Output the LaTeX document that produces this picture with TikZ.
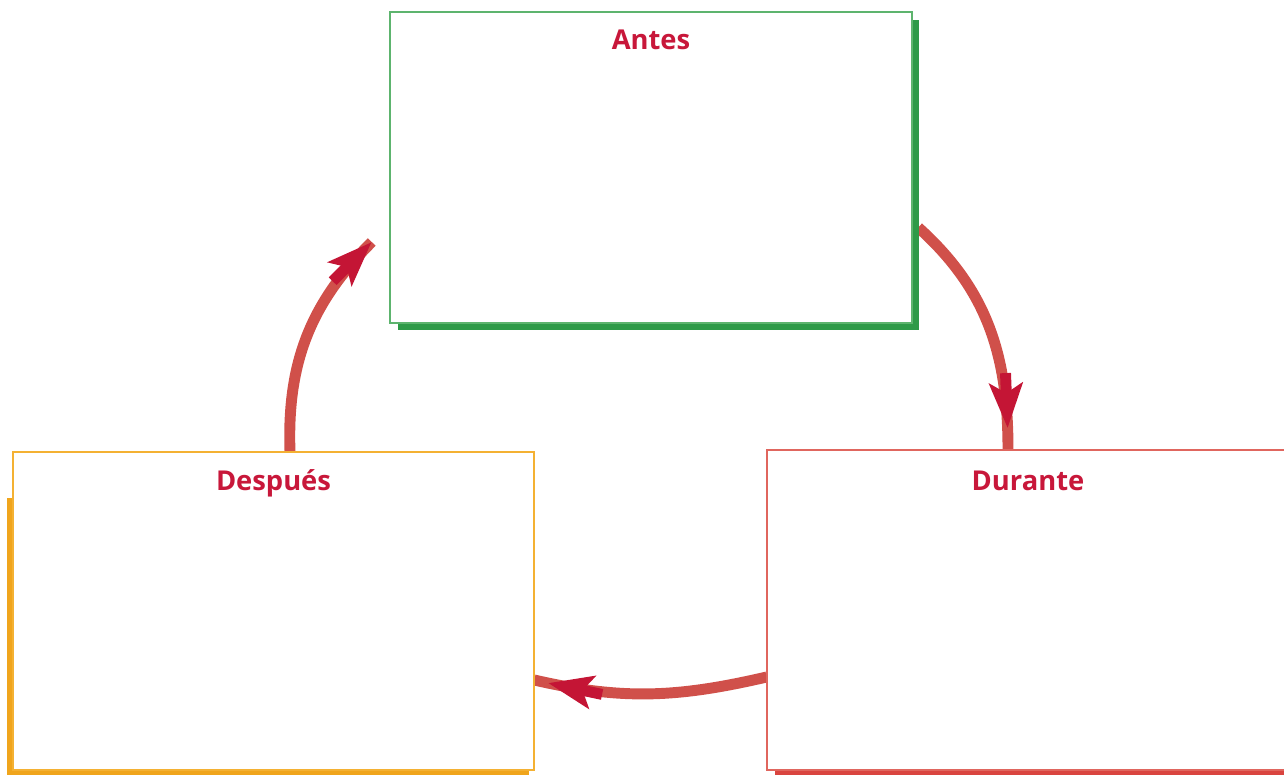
\documentclass[tikz,border=0pt]{standalone}
\usepackage{fontspec}
\setmainfont{Open Sans}
\usepackage{xcolor}
\usepackage{tikz}
\usetikzlibrary{calc, decorations.markings}

\definecolor{titlered}{HTML}{C8173A}
\definecolor{arcred}{HTML}{D0504A}
\definecolor{tipred}{HTML}{C41535}
\definecolor{antesline}{HTML}{5DB46E}
\definecolor{antesshade}{HTML}{2E9A48}
\definecolor{duranteline}{HTML}{E0665E}
\definecolor{duranteshade}{HTML}{D9443F}
\definecolor{despuesline}{HTML}{F4B133}
\definecolor{despuesshade}{HTML}{F0A51C}

\newcommand{\arrowtip}{%
	\fill[tipred] (0,0) -- (-34pt,13pt) -- (-26pt,0) -- (-34pt,-13pt) -- cycle;
	\fill[tipred] (-41pt,-4.1pt) rectangle (-22pt,4.1pt);}

\begin{document}
\begin{tikzpicture}[x=0.75pt, y=0.75pt,
		phase/.style={draw, fill=white, line width=1pt, inner sep=0pt, outer sep=0pt},
		title/.style={text=titlered, font=\bfseries\fontsize{20.5}{24}\selectfont, anchor=base},
		cyclearrow/.style={draw=arcred, line width=8.2pt, postaction={decorate},
			decoration={markings, mark=at position #1 with {\arrowtip}}}]
		\useasboundingbox (0,0) rectangle (1284,774);
		
		% phase boxes
		\coordinate (cA) at (651,606.5);
		\coordinate (cD) at (1028,164);
		\coordinate (cP) at (273.5,163);
		
		\node (antes) [minimum width=391.5pt, minimum height=233.25pt] at (cA) {};
		\node (durante) [minimum width=391.5pt, minimum height=240pt] at (cD) {};
		\node (despues) [minimum width=390.75pt, minimum height=238.5pt] at (cP) {};
		
		% cycle
		\draw[cyclearrow=-16.5pt] ([shift={(6,-60)}]antes.east)
			to[out=-42, in=90] ([shift={(-20,0)}]durante.north);
		\draw[cyclearrow=-11pt] ([shift={(0,-67)}]durante.west)
			to[out=193, in=-13] ([shift={(0,-69)}]despues.east);
		\draw[cyclearrow=-0.5pt] ([shift={(16.5,0)}]despues.north)
			to[out=92, in=225] ([shift={(-18,-74.5)}]antes.west);
		
		% shadows
		\fill[antesshade] ([shift={(8,-7)}]antes.south west) rectangle ([shift={(7,-8)}]antes.north east);
		\fill[duranteshade] ([shift={(8,-8)}]durante.south west) rectangle ([shift={(8,-8)}]durante.north east);
		\fill[despuesshade] ([shift={(-6,-8)}]despues.south west) rectangle ([shift={(-5,-46)}]despues.north east);
		
		\node[phase, draw=antesline, minimum width=391.5pt, minimum height=233.25pt] at (cA) {};
		\node[phase, draw=duranteline, minimum width=391.5pt, minimum height=240pt] at (cD) {};
		\node[phase, draw=despuesline, minimum width=390.75pt, minimum height=238.5pt] at (cP) {};
		
		\node[title] (antesT) at ([shift={(0,-38)}]antes.north) {Antes};
		\node[title] (duranteT) at ([shift={(0,-41)}]durante.north) {Durante};
		\node[title] (despuesT) at ([shift={(0,-39)}]despues.north) {Después};
	\end{tikzpicture}
\end{document}
